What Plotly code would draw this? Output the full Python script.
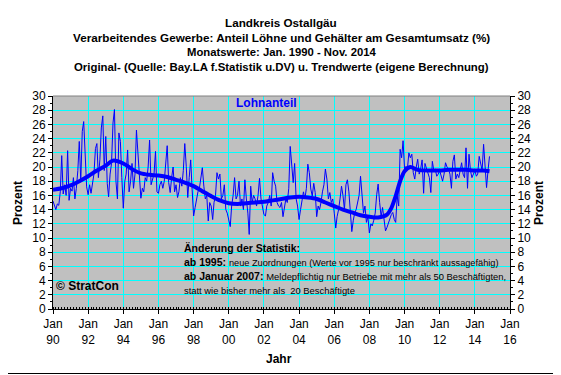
import plotly.graph_objects as go
import pandas as pd

# ---------------- data ----------------
raw_1990_1994 = [
    15.2, 14.5, 14.0, 14.8, 14.6, 16.5, 21.6, 16.2, 17.5, 16.0, 22.3, 15.3,
    17.0, 16.6, 18.5, 15.5, 17.0, 19.5, 23.6, 18.0, 25.0, 26.4, 20.5, 17.2,
    16.1, 17.5, 16.3, 18.0, 19.0, 22.6, 23.3, 18.5, 21.0, 25.5, 27.2, 19.5,
    24.3, 17.7, 15.8, 19.0, 20.5, 26.2, 28.1, 18.0, 15.5, 24.8, 23.6, 18.5,
    14.2, 18.0, 19.0, 22.4, 16.5, 18.0, 20.5, 17.0, 19.0, 25.2, 21.5, 17.5,
]
raw_1995_1999 = [
    15.6, 17.0, 16.5, 18.5, 18.0, 20.0, 23.8, 17.5, 18.5, 19.0, 22.2, 16.5,
    16.3, 17.5, 18.0, 17.0, 18.0, 20.8, 23.0, 17.8, 16.4, 18.5, 20.0, 16.5,
    17.5, 15.7, 16.5, 18.5, 17.3, 19.5, 23.3, 20.1, 15.7, 18.5, 21.0, 16.8,
    13.1, 14.3, 15.5, 16.5, 17.0, 18.7, 19.9, 17.3, 15.5, 16.0, 12.4, 15.0,
    14.5, 12.6, 15.0, 16.0, 19.2, 18.3, 19.0, 15.5, 16.0, 17.5, 14.0, 13.5,
]
raw_2000_2004 = [
    12.6, 11.6, 14.5, 16.0, 18.5, 15.5, 16.0, 18.0, 14.5, 15.5, 14.0, 18.2,
    15.5, 13.5, 10.5, 17.3, 15.0, 16.0, 15.5, 14.5, 16.0, 18.4, 15.5, 14.3,
    13.3, 13.1, 14.5, 15.0, 16.0, 14.5, 19.2, 18.0, 17.3, 15.0, 14.5, 14.3,
    15.0, 13.0, 14.3, 15.5, 15.0, 17.0, 22.9, 20.6, 17.8, 20.5, 15.5, 14.5,
    12.6, 14.0, 15.5, 16.5, 15.5, 17.0, 20.4, 19.2, 16.9, 15.9, 17.7, 16.4,
]
raw_2005_2009 = [
    13.0, 14.5, 14.0, 15.0, 16.5, 17.5, 19.7, 18.3, 15.5, 16.4, 15.0, 15.5,
    13.5, 11.4, 13.0, 14.0, 15.5, 17.3, 16.0, 14.0, 17.5, 18.2, 16.5, 13.5,
    10.9, 12.5, 13.5, 14.0, 15.0, 16.0, 18.7, 16.6, 13.5, 14.5, 12.2, 13.0,
    10.7, 12.0, 11.7, 12.5, 13.5, 16.1, 17.6, 15.0, 13.0, 14.3, 12.6, 11.0,
    11.5, 12.2, 12.6, 13.3, 13.6, 12.6, 12.2, 15.9, 14.5, 22.5, 21.3, 23.7,
]
raw_2010_2014 = [
    19.7, 20.1, 19.7, 22.0, 21.3, 21.8, 19.2, 18.3, 20.0, 21.1, 19.0, 19.7,
    21.0, 16.3, 20.5, 19.7, 19.0, 18.5, 16.4, 20.8, 19.5, 19.7, 18.7, 19.0,
    19.5, 18.5, 18.0, 19.0, 20.6, 20.0, 19.7, 19.0, 17.0, 20.8, 21.7, 18.3,
    19.0, 18.5, 19.5, 20.6, 19.0, 18.5, 22.7, 17.0, 21.8, 19.5, 18.5, 19.0,
    19.5, 18.7, 19.0, 21.5, 20.6, 19.5, 23.2, 20.0, 17.1, 19.5, 21.5,
]
raw_start = "1990-01-01"

trend_dates = [
    "1990-01-01", "1990-07-01", "1991-01-01", "1991-07-01", "1992-01-01", "1992-07-01",
    "1993-01-01", "1993-06-01", "1994-01-01", "1994-07-01", "1995-01-01", "1995-07-01",
    "1996-01-01", "1996-07-01", "1997-01-01", "1997-07-01", "1998-01-01", "1998-07-01",
    "1999-01-01", "1999-07-01", "2000-01-01", "2000-07-01", "2001-01-01", "2001-07-01",
    "2002-01-01", "2002-07-01", "2003-01-01", "2003-07-01", "2004-01-01", "2004-07-01",
    "2005-01-01", "2005-07-01", "2006-01-01", "2006-07-01", "2007-01-01", "2007-07-01",
    "2008-01-01", "2008-07-01", "2009-01-01", "2009-04-01", "2009-07-01", "2009-10-01",
    "2010-01-01", "2010-05-01", "2010-10-01", "2011-07-01", "2012-01-01", "2012-07-01",
    "2013-01-01", "2013-07-01", "2014-01-01", "2014-07-01", "2014-11-01",
]
trend_values = [
    16.8, 17.0, 17.4, 18.0, 18.7, 19.5,
    20.2, 20.9, 20.5, 19.7, 19.1, 18.9,
    18.8, 18.6, 18.2, 17.8, 17.3, 16.6,
    15.9, 15.3, 14.9, 14.8, 14.9, 15.0,
    15.1, 15.3, 15.5, 15.7, 15.8, 15.7,
    15.5, 15.0, 14.5, 14.0, 13.6, 13.2,
    13.0, 12.9, 13.3, 14.2, 15.9, 18.0,
    19.4, 20.0, 19.6, 19.5, 19.5, 19.6,
    19.6, 19.6, 19.5, 19.5, 19.4,
]

tick_years = [1990, 1992, 1994, 1996, 1998, 2000, 2002, 2004, 2006, 2008, 2010, 2012, 2014, 2016]
tick_text = ["Jan<br>" + str(y)[2:] for y in tick_years]

title_lines = [
    "Landkreis Ostallgäu",
    "Verarbeitendes Gewerbe: Anteil Löhne und Gehälter am Gesamtumsatz (%)",
    "Monatswerte: Jan. 1990 - Nov. 2014",
    "Original- (Quelle: Bay.LA f.Statistik u.DV) u. Trendwerte (eigene Berechnung)",
]

# ---------------- figure ----------------
# The page body has an 8px margin, so the figure is drawn 8px smaller/shifted.
OFF = 8
W, H = 553, 367
L, T = 53 - OFF, 96 - OFF
R = W - (510 - OFF)
B = H - (309 - OFF)
PW, PH = W - L - R, H - T - B
FONT = "Liberation Sans, Arial, sans-serif"
TITLE_SIZES = [11.7, 11.7, 11.3, 11.4]


def px(x):  # page pixel x -> paper
    return (x - OFF - L) / PW


def py(y):  # page pixel y -> paper
    return (H - B - (y - OFF)) / PH


raw = raw_1990_1994 + raw_1995_1999 + raw_2000_2004 + raw_2005_2009 + raw_2010_2014
months = pd.date_range(raw_start, periods=len(raw), freq="MS")

fig = go.Figure()
fig.add_trace(go.Scatter(x=months, y=raw, mode="lines",
                         line=dict(color="#0000FF", width=1),
                         showlegend=False, hoverinfo="skip"))
fig.add_trace(go.Scatter(x=trend_dates, y=trend_values, mode="lines", yaxis="y2",
                         line=dict(color="#0000FF", width=4, shape="spline", smoothing=0.8),
                         showlegend=False, hoverinfo="skip"))

yax = dict(range=[0, 30], dtick=2, tick0=0, showgrid=True, gridcolor="#00FFFF", gridwidth=1,
           ticks="outside", ticklen=4, tickcolor="black", tickwidth=1,
           showline=True, linecolor="black", linewidth=1, zeroline=False,
           tickfont=dict(family=FONT, size=12, color="black"),
           minor=dict(dtick=1, ticks="outside", ticklen=2, tickcolor="black", showgrid=False))

fig.update_layout(
    width=W, height=H,
    margin=dict(l=L, r=R, t=T, b=B, pad=0),
    paper_bgcolor="white", plot_bgcolor="#C0C0C0",
    font=dict(family=FONT, size=11, color="black"),
    xaxis=dict(range=["1990-01-01", "2016-01-01"], type="date",
               tickmode="array",
               tickvals=[f"{y}-01-01" for y in tick_years], ticktext=tick_text,
               showgrid=True, gridcolor="#00FFFF", gridwidth=1,
               ticks="outside", ticklen=4, tickcolor="black",
               showline=True, linecolor="black", linewidth=1, zeroline=False,
               tickfont=dict(family=FONT, size=12, color="black"),
               minor=dict(dtick="M2", ticks="inside", ticklen=2, tickcolor="black", showgrid=False)),
    yaxis=yax,
    yaxis2=dict(yax, overlaying="y", side="right", showgrid=False),
)

# plot-area top border and outer frame (right and bottom edges)
fig.add_shape(type="line", xref="paper", yref="paper", x0=0, x1=1, y0=1, y1=1,
              line=dict(color="#808080", width=1))
fig.add_shape(type="line", xref="paper", yref="paper",
              x0=px(559.5), x1=px(559.5), y0=py(373.5), y1=py(OFF),
              line=dict(color="black", width=1))
fig.add_shape(type="line", xref="paper", yref="paper",
              x0=px(OFF), x1=px(559.5), y0=py(373.5), y1=py(373.5),
              line=dict(color="black", width=1))

ann = []
for i, line in enumerate(title_lines):
    ann.append(dict(text="<b>" + line + "</b>", x=px(281), y=py(23 + i * 14.6),
                    xref="paper", yref="paper", showarrow=False, xanchor="center", yanchor="middle",
                    font=dict(family=FONT, size=TITLE_SIZES[i], color="black")))
ann.append(dict(text="<b>Lohnanteil</b>", x=px(266), y=py(103), xref="paper", yref="paper",
                showarrow=False, xanchor="center", yanchor="middle",
                font=dict(family=FONT, size=12, color="#0000FF")))
ann.append(dict(text="<b>© StratCon</b>", x=px(54), y=py(286), xref="paper", yref="paper",
                showarrow=False, xanchor="left", yanchor="middle",
                font=dict(family=FONT, size=12, color="black")))
ann.append(dict(text="<b>Prozent</b>", x=px(18), y=py(203), xref="paper", yref="paper",
                showarrow=False, textangle=-90, xanchor="center", yanchor="middle",
                font=dict(family=FONT, size=12, color="black")))
ann.append(dict(text="<b>Prozent</b>", x=px(539), y=py(203), xref="paper", yref="paper",
                showarrow=False, textangle=-90, xanchor="center", yanchor="middle",
                font=dict(family=FONT, size=12, color="black")))
ann.append(dict(text="<b>Jahr</b>", x=px(279), y=py(359), xref="paper", yref="paper",
                showarrow=False, xanchor="center", yanchor="middle",
                font=dict(family=FONT, size=12, color="black")))

note_lines = [
    "<b>Änderung der Statistik:</b>",
    "<b>ab 1995:</b> <span style='font-size:9.2px'>neue Zuordnungen (Werte vor 1995 nur beschränkt aussagefähig)</span>",
    "<b>ab Januar 2007:</b> <span style='font-size:9.4px'>Meldepflichtig nur Betriebe mit mehr als 50 Beschäftigten,</span>",
    "<span style='font-size:9.4px'>statt wie bisher mehr als  20 Beschäftigte</span>",
]
for i, line in enumerate(note_lines):
    ann.append(dict(text=line, x=px(182), y=py(248 + i * 14), xref="paper", yref="paper",
                    showarrow=False, xanchor="left", yanchor="middle",
                    font=dict(family=FONT, size=10.5, color="black")))

fig.update_layout(annotations=ann)
fig.write_html("out.html")
